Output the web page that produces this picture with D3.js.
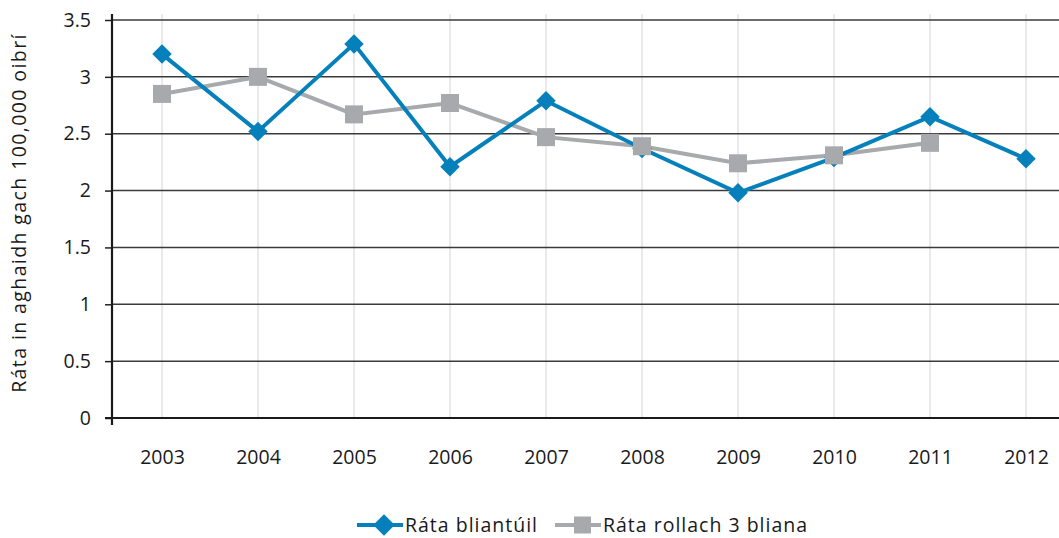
<!DOCTYPE html>
<html><head><meta charset="utf-8">
<script src="https://cdn.jsdelivr.net/npm/d3@7"></script>
<style>body{margin:0;background:#fff}svg{display:block}text{font-family:"Open Sans","Noto Sans",sans-serif;fill:#1a1a1a}</style>
</head><body><svg id="c" width="1059" height="538"></svg>
<script>
const years = ["2003","2004","2005","2006","2007","2008","2009","2010","2011","2012"];
const annual = [3.2, 2.52, 3.29, 2.21, 2.79, 2.37, 1.98, 2.29, 2.65, 2.28];
const rolling = [2.85, 3.0, 2.67, 2.77, 2.47, 2.39, 2.24, 2.31, 2.42, null];
const yTicks = [0, 0.5, 1, 1.5, 2, 2.5, 3, 3.5];
const seriesNames = ["Ráta bliantúil", "Ráta rollach 3 bliana"];
const yTitle = "Ráta in aghaidh gach 100,000 oibrí";

const svg = d3.select("#c");
const blue = "#0580ba", gray = "#a8a9ac";
const FS = "19.5px";
const x = d3.scalePoint().domain(years).range([162, 1026]);
const y = d3.scaleLinear().domain([0, 3.5]).range([418, 20]);
const xL = 112, xR = 1059;

svg.append("g").selectAll("line").data(years).join("line")
  .attr("x1", d => x(d)).attr("x2", d => x(d)).attr("y1", 14).attr("y2", 418)
  .attr("stroke", "#dcdcdc").attr("stroke-width", 1.2);
svg.append("g").selectAll("line").data(yTicks.filter(d => d > 0)).join("line")
  .attr("x1", xL).attr("x2", xR).attr("y1", d => y(d)).attr("y2", d => y(d))
  .attr("stroke", "#3a3a3a").attr("stroke-width", 1.5);

const ya = svg.append("g").attr("transform", `translate(${xL},0)`)
  .call(d3.axisLeft(y).tickValues(yTicks).tickSize(7).tickPadding(14).tickFormat(d3.format("")));
ya.select(".domain").remove();
ya.selectAll(".tick line").attr("stroke", "#222").attr("stroke-width", 1.5);
ya.selectAll("text").style("font-size", FS).attr("fill", "#1a1a1a");
svg.append("line").attr("x1", xL).attr("x2", xL).attr("y1", 14).attr("y2", 425)
  .attr("stroke", "#1a1a1a").attr("stroke-width", 2.2);
svg.append("line").attr("x1", xL - 7).attr("x2", xR).attr("y1", y(0)).attr("y2", y(0))
  .attr("stroke", "#1a1a1a").attr("stroke-width", 2.2);
const xa = svg.append("g").attr("transform", `translate(0,${y(0)})`)
  .call(d3.axisBottom(x).tickSize(0).tickPadding(32));
xa.select(".domain").remove();
xa.selectAll("text").style("font-size", FS).attr("fill", "#1a1a1a");

svg.append("text").attr("transform", "translate(26,213) rotate(-90)")
  .attr("text-anchor", "middle").style("font-size", FS).style("letter-spacing", "1.4px").text(yTitle);

const line = d3.line().defined(d => d.v != null).x(d => x(d.k)).y(d => y(d.v));
const rollData = years.map((k, i) => ({k, v: rolling[i]}));
const annData = years.map((k, i) => ({k, v: annual[i]}));
const diamond = d3.symbol().type(d3.symbolSquare).size(190);
// lines: gray under blue
svg.append("path").datum(rollData).attr("d", line).attr("fill", "none")
  .attr("stroke", gray).attr("stroke-width", 4);
svg.append("path").datum(annData).attr("d", line).attr("fill", "none")
  .attr("stroke", blue).attr("stroke-width", 4);
// markers: blue diamonds under gray squares
svg.append("g").selectAll("path").data(annData).join("path")
  .attr("d", diamond).attr("transform", d => `translate(${x(d.k)},${y(d.v)}) rotate(45)`)
  .attr("fill", blue);
svg.append("g").selectAll("rect").data(rollData.filter(d => d.v != null)).join("rect")
  .attr("x", d => x(d.k) - 9).attr("y", d => y(d.v) - 9).attr("width", 18).attr("height", 18)
  .attr("fill", gray);

const lg = svg.append("g");
const ly = 525;
lg.append("line").attr("x1", 357).attr("x2", 403).attr("y1", ly).attr("y2", ly).attr("stroke", blue).attr("stroke-width", 4);
lg.append("path").attr("d", d3.symbol().type(d3.symbolSquare).size(230)).attr("transform", `translate(384,${ly}) rotate(45)`).attr("fill", blue);
lg.append("text").attr("x", 405).attr("y", 532).style("font-size", FS).style("letter-spacing", "1px").text(seriesNames[0]);
lg.append("line").attr("x1", 555).attr("x2", 601).attr("y1", ly).attr("y2", ly).attr("stroke", gray).attr("stroke-width", 4);
lg.append("rect").attr("x", 574).attr("y", ly - 8.5).attr("width", 17).attr("height", 17).attr("fill", gray);
lg.append("text").attr("x", 603).attr("y", 532).style("font-size", FS).style("letter-spacing", "1px").text(seriesNames[1]);
</script></body></html>
